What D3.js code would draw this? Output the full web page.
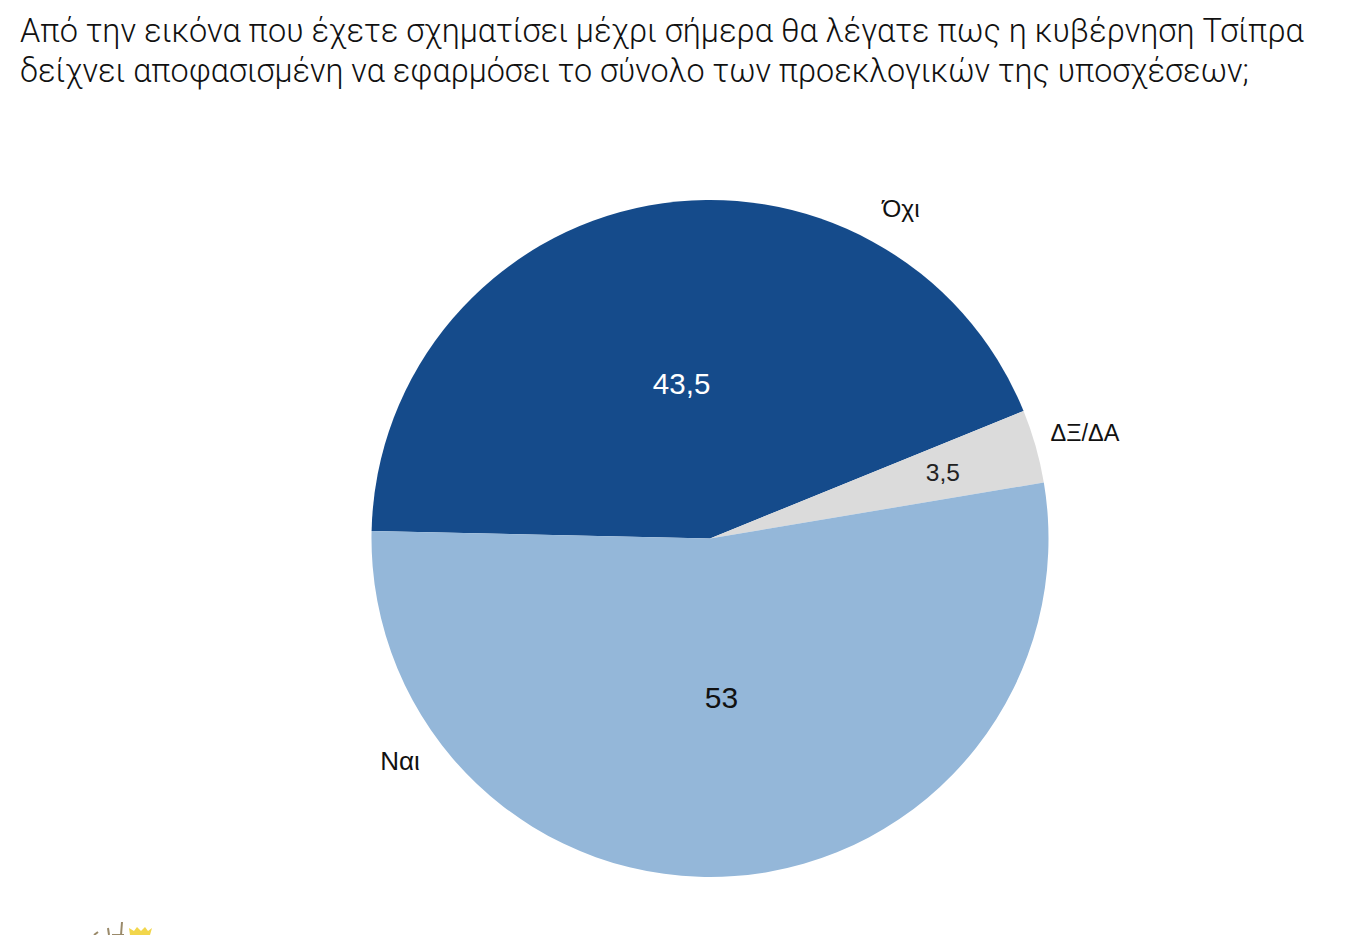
<!DOCTYPE html>
<html>
<head>
<meta charset="utf-8">
<script src="https://cdn.jsdelivr.net/npm/d3@7"></script>
<style>
  html, body { margin: 0; padding: 0; background: #fff; overflow: hidden; }
  text { font-family: "Liberation Sans", sans-serif; }
</style>
</head>
<body>
<div class="chart"></div>
<script>
// chart data
var categories = ["Όχι", "ΔΞ/ΔΑ", "Ναι"];
var values = [43.5, 3.5, 53];
var value_labels = ["43,5", "3,5", "53"];
var colors = ["#154b8b", "#dbdbdb", "#94b7d9"];
var title_lines = [
	"Από την εικόνα που έχετε σχηματίσει μέχρι σήμερα θα λέγατε πως η κυβέρνηση Τσίπρα",
	"δείχνει αποφασισμένη να εφαρμόσει το σύνολο των προεκλογικών της υποσχέσεων;"
];

var width = 1351, height = 935;
var cx = 710, cy = 538.5, radius = 338.5;
var start = 271.27 * Math.PI / 180;

var svg = d3.select(".chart").append("svg")
	.attr("width", width)
	.attr("height", height)
	.style("display", "block");

// title, font size fitted to the line widths in the picture
var title_widths = [1284, 1229];
svg.selectAll(".title")
	.data(title_lines)
	.enter().append("text")
	.attr("class", "title")
	.attr("x", 20)
	.attr("y", function (d, i) { return 42 + i * 40; })
	.style("font-family", "Roboto, 'Liberation Sans', sans-serif")
	.style("font-weight", 300)
	.style("font-size", "30px")
	.style("fill", "#111")
	.text(function (d) { return d; })
	.style("font-size", function (d, i) {
		return (30 * title_widths[i] / this.getComputedTextLength()) + "px";
	});

var pie = d3.pie()
	.sort(null)
	.startAngle(start)
	.endAngle(start + 2 * Math.PI)
	.value(function (d) { return d; });

var arc = d3.arc().innerRadius(0).outerRadius(radius);
var slices = pie(values);

var g = svg.append("g")
	.attr("transform", "translate(" + cx + "," + cy + ")");

g.selectAll(".slice")
	.data(slices)
	.enter().append("path")
	.attr("class", "slice")
	.attr("d", arc)
	.style("fill", function (d, i) { return colors[i]; });

// value labels sit on the middle angle of each slice
var label_radius = [157, 242, 159];
var label_color = ["#fff", "#222", "#111"];
var label_size = [29.5, 24.5, 30];
g.selectAll(".value")
	.data(slices)
	.enter().append("text")
	.attr("class", "value")
	.attr("transform", function (d, i) {
		var a = (d.startAngle + d.endAngle) / 2;
		return "translate(" + (Math.sin(a) * label_radius[i]) + "," + (-Math.cos(a) * label_radius[i]) + ")";
	})
	.attr("dy", "0.35em")
	.attr("text-anchor", "middle")
	.style("font-size", function (d, i) { return label_size[i] + "px"; })
	.style("fill", function (d, i) { return label_color[i]; })
	.text(function (d, i) { return value_labels[i]; });

// category labels were placed by hand in the original
var cat_pos = [[901, 217], [1085, 441], [400, 770]];
var cat_size = [24.5, 23.5, 26];
svg.selectAll(".cat")
	.data(categories)
	.enter().append("text")
	.attr("class", "cat")
	.attr("x", function (d, i) { return cat_pos[i][0]; })
	.attr("y", function (d, i) { return cat_pos[i][1]; })
	.attr("text-anchor", "middle")
	.style("font-size", function (d, i) { return cat_size[i] + "px"; })
	.style("fill", "#111")
	.text(function (d) { return d; });

// logo cut off at the bottom edge
var logo = svg.append("g");
logo.append("path")
	.attr("d", "M130 935 L129 928 L134 931 L137 927 L141 931 L145 927 L148 931 L152 928 L150 935 Z")
	.style("fill", "#f2d64b");
logo.append("path")
	.attr("d", "M94 935 L98 932 M109 935 L108 928 M121 935 L122 922 M112 935 L124 935")
	.style("fill", "none")
	.style("stroke", "#9a8a6a")
	.style("stroke-width", 2);
</script>
</body>
</html>
